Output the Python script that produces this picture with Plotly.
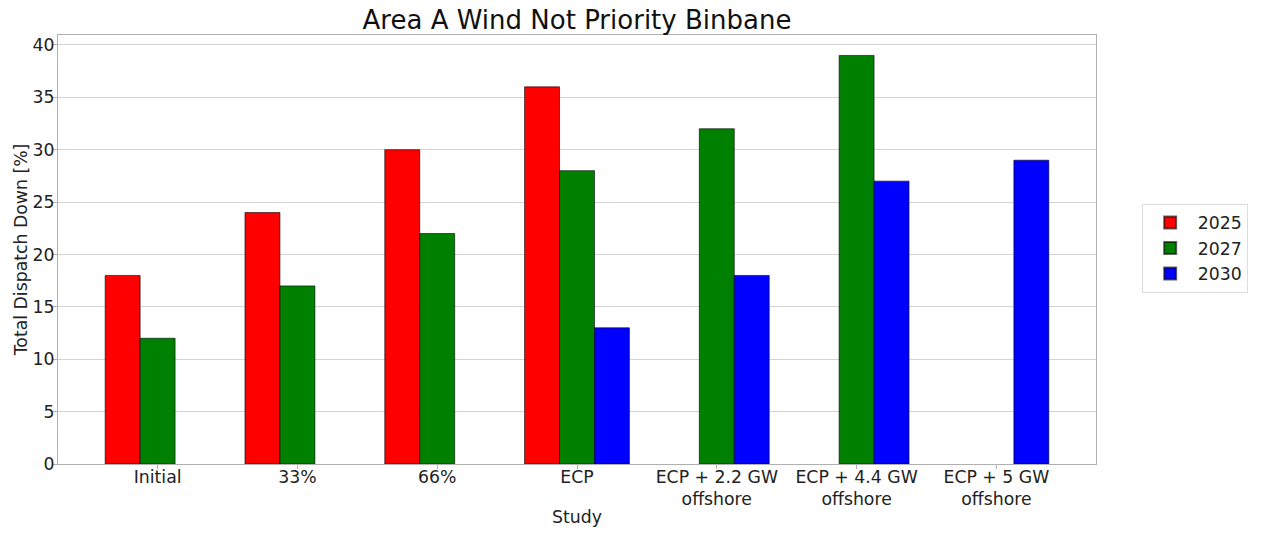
import plotly.graph_objects as go

studies = ["Initial", "33%", "66%", "ECP", "ECP + 2.2 GW<br>offshore",
           "ECP + 4.4 GW<br>offshore", "ECP + 5 GW<br>offshore"]
years = ["2025", "2027", "2030"]
v2025 = [18, 24, 30, 36, None, None, None]
v2027 = [12, 17, 22, 28, 32, 39, None]
v2030 = [None, None, None, 13, 18, 27, 29]
colors = ["red", "green", "blue"]

series = [v2025, v2027, v2030]
offsets = [-0.25, 0.0, 0.25]
width = 0.25

fig = go.Figure()
for name, vals, col, off in zip(years, series, colors, offsets):
    fig.add_trace(go.Bar(
        x=[i + off for i in range(len(studies))],
        y=vals,
        width=width,
        name=name,
        marker=dict(color=col, line=dict(color="rgba(0,0,0,0.6)", width=1)),
    ))

font = "DejaVu Sans, Verdana, sans-serif"
fig.update_layout(
    width=1262, height=533,
    barmode="overlay",
    paper_bgcolor="white", plot_bgcolor="white",
    font=dict(family=font, size=17.3, color="#222222"),
    margin=dict(l=58, r=166, t=35, b=69, autoexpand=False),
    title=dict(text="Area A Wind Not Priority Binbane", x=0.5, xanchor="center",
               xref="paper", yref="container",
               y=0.962, yanchor="middle", font=dict(size=26, color="#111111")),
    legend=dict(x=1.044, y=0.503, xanchor="left", yanchor="middle",
                bordercolor="#dddddd", borderwidth=1, font=dict(size=17.3),
                itemsizing="constant", itemwidth=45, tracegroupgap=4),
    showlegend=True,
)
fig.update_xaxes(
    range=[-0.7125, 6.7125], automargin=False,
    tickmode="array", tickvals=list(range(len(studies))), ticktext=studies,
    showgrid=False, zeroline=False,
    showline=True, linecolor="#b0b0b0", linewidth=1, mirror=True,
    ticks="outside", ticklen=4, tickcolor="#b0b0b0",
    ticklabelstandoff=-7,
    title=dict(text="Study", font=dict(size=17.3), standoff=2),
    tickfont=dict(size=17.3),
)
fig.update_yaxes(
    range=[0, 40.95], automargin=False,
    tickmode="array", tickvals=[0, 5, 10, 15, 20, 25, 30, 35, 40],
    showgrid=True, gridcolor="#d3d3d3", gridwidth=1, zeroline=False,
    showline=True, linecolor="#b0b0b0", linewidth=1, mirror=True,
    ticks="outside", ticklen=4, tickcolor="#b0b0b0",
    ticklabelstandoff=-5,
    title=dict(text="Total Dispatch Down [%]", font=dict(size=17.3), standoff=0),
    tickfont=dict(size=17.3),
)

fig.write_html("out.html", config={"displayModeBar": False},
               post_script="document.body.style.margin='0';document.body.style.padding='0';")
